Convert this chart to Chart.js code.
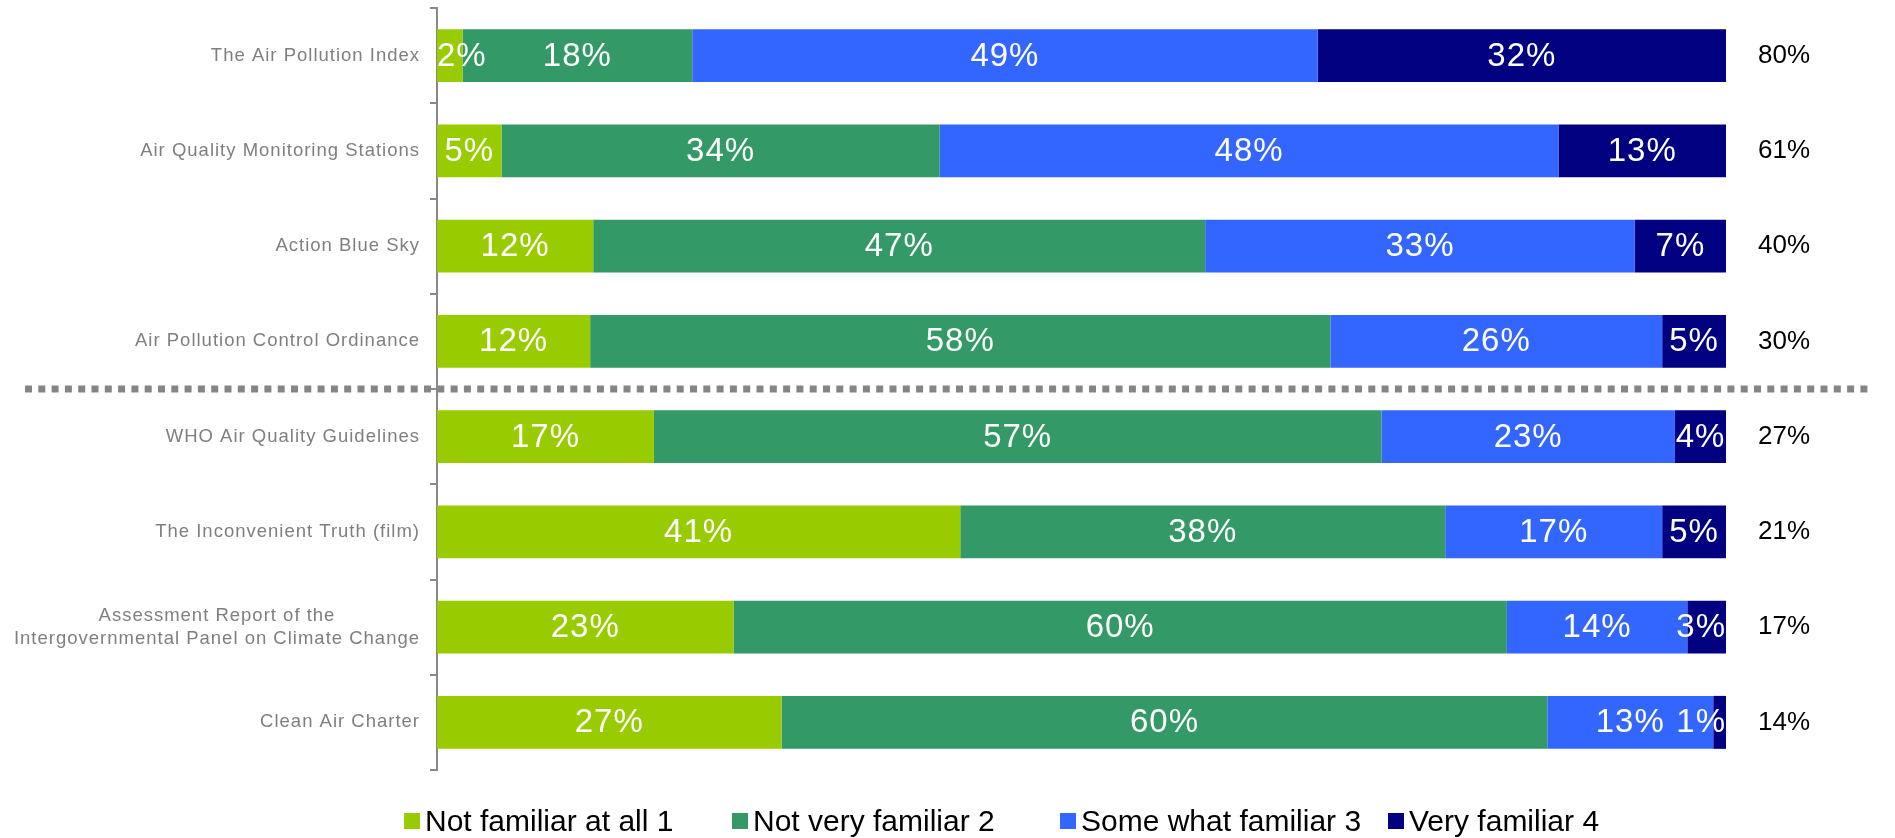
<!DOCTYPE html>
<html>
<head>
<meta charset="utf-8">
<script src="https://cdn.jsdelivr.net/npm/chart.js@4.4.1/dist/chart.umd.min.js"></script>
<style>
    html, body { margin: 0; padding: 0; background: #fff; }
    #chart-wrap { position: relative; width: 1895px; height: 838px; }
    #chart-legend {
        position: absolute; left: 404px; top: 804px;
        display: flex; font-family: "Liberation Sans", Arial, sans-serif;
        font-size: 30px; color: #000;
    }
    #chart-legend .item { width: 328px; display: flex; align-items: center; white-space: nowrap; }
    #chart-legend .box { width: 16px; height: 16px; margin-right: 5px; }
</style>
</head>
<body>
<div id="chart-wrap">
    <canvas id="familiarChart"></canvas>
    <div id="chart-legend"></div>
</div>
<script>
// chart data
var categories = [
    'The Air Pollution Index',
    'Air Quality Monitoring Stations',
    'Action Blue Sky',
    'Air Pollution Control Ordinance',
    'WHO Air Quality Guidelines',
    'The Inconvenient Truth (film)',
    ['Assessment Report of the', 'Intergovernmental Panel on Climate Change'],
    'Clean Air Charter'
];
var notAtAll = [2, 5, 12, 12, 17, 41, 23, 27];
var notVery = [18, 34, 47, 58, 57, 38, 60, 60];
var someWhat = [49, 48, 33, 26, 23, 17, 14, 13];
var veryFamiliar = [32, 13, 7, 5, 4, 5, 3, 1];
var familiarTotals = ['80%', '61%', '40%', '30%', '27%', '21%', '17%', '14%'];
var seriesNames = ['Not familiar at all 1', 'Not very familiar 2', 'Some what familiar 3', 'Very familiar 4'];
var seriesColors = ['#99cc00', '#339966', '#3366ff', '#000080'];
var separatorAfter = 3;

var seriesValues = [notAtAll, notVery, someWhat, veryFamiliar];
var FONT = '"Liberation Sans", Arial, sans-serif';

document.addEventListener('DOMContentLoaded', function() {
    // each row is drawn as a 100% bar
    var rowTotals = categories.map(function(c, i) {
        return seriesValues.reduce(function(s, arr) { return s + arr[i]; }, 0);
    });

    var datasets = seriesValues.map(function(arr, k) {
        return {
            label: seriesNames[k],
            data: arr.map(function(v, i) { return v / rowTotals[i] * 100; }),
            backgroundColor: seriesColors[k],
            borderWidth: 0,
            barPercentage: 0.556,
            categoryPercentage: 1
        };
    });

    // white % labels inside the segments, kept inside the plot
    var segmentLabels = {
        id: 'segmentLabels',
        afterDatasetsDraw: function(chart) {
            var ctx = chart.ctx, area = chart.chartArea;
            ctx.save();
            ctx.font = '33px ' + FONT;
            ctx.letterSpacing = '1px';
            ctx.fillStyle = '#fff';
            ctx.textBaseline = 'middle';
            ctx.textAlign = 'left';
            chart.data.datasets.forEach(function(ds, di) {
                chart.getDatasetMeta(di).data.forEach(function(bar, i) {
                    var text = seriesValues[di][i] + '%';
                    var w = ctx.measureText(text).width;
                    var p = bar.getProps(['x', 'base', 'y'], true);
                    var left = (p.x + p.base) / 2 - w / 2;
                    left = Math.max(area.left, Math.min(left, area.right - w));
                    ctx.fillText(text, left, p.y + 1);
                });
            });
            ctx.restore();
        }
    };

    // grey category names, multi-line blocks centred on themselves
    var categoryLabels = {
        id: 'categoryLabels',
        afterDraw: function(chart) {
            var ctx = chart.ctx, yScale = chart.scales.y;
            ctx.save();
            ctx.font = '18.5px ' + FONT;
            ctx.letterSpacing = '1px';
            ctx.fillStyle = '#7f7f7f';
            ctx.textBaseline = 'middle';
            ctx.textAlign = 'center';
            var right = yScale.right - 17;
            categories.forEach(function(label, i) {
                var lines = [].concat(label);
                var w = Math.max.apply(null, lines.map(function(l) { return ctx.measureText(l).width; }));
                var cy = yScale.getPixelForValue(i);
                lines.forEach(function(line, j) {
                    ctx.fillText(line, right - w / 2, cy + (j - (lines.length - 1) / 2) * 23);
                });
            });
            ctx.restore();
        }
    };

    // dotted line between the two groups
    var separator = {
        id: 'separator',
        afterDraw: function(chart) {
            var ctx = chart.ctx, yScale = chart.scales.y;
            var y = (yScale.getPixelForValue(separatorAfter) + yScale.getPixelForValue(separatorAfter + 1)) / 2;
            ctx.save();
            ctx.strokeStyle = '#858585';
            ctx.lineWidth = 7;
            ctx.setLineDash([7, 6.3]);
            ctx.beginPath();
            ctx.moveTo(25, y);
            ctx.lineTo(1873, y);
            ctx.stroke();
            ctx.restore();
        }
    };

    var familiarChart = new Chart(document.getElementById('familiarChart'), {
        type: 'bar',
        data: { labels: categories, datasets: datasets },
        options: {
            indexAxis: 'y',
            responsive: true,
            maintainAspectRatio: false,
            animation: false,
            layout: { padding: { top: 8, bottom: 68, left: 0, right: 0 } },
            plugins: {
                legend: { display: false },
                tooltip: { enabled: false }
            },
            scales: {
                x: { stacked: true, min: 0, max: 100, display: false },
                y: {
                    stacked: true,
                    offset: true,
                    ticks: { display: false },
                    grid: { drawOnChartArea: false, drawTicks: true, tickLength: 7, color: '#888', lineWidth: 2 },
                    border: { color: '#888', width: 2 },
                    afterFit: function(scale) {
                        scale.width = 437;
                        scale.paddingTop = 0;
                        scale.paddingBottom = 0;
                    }
                },
                y2: {
                    type: 'category',
                    position: 'right',
                    offset: true,
                    labels: familiarTotals,
                    grid: { display: false, drawTicks: false },
                    border: { display: false },
                    ticks: { color: '#000', padding: 32, font: { family: FONT, size: 26 } },
                    afterFit: function(scale) {
                        scale.width = 169;
                        scale.paddingTop = 0;
                        scale.paddingBottom = 0;
                    }
                }
            }
        },
        plugins: [segmentLabels, categoryLabels, separator]
    });

    // legend built from the chart's datasets
    var legendContainer = document.getElementById('chart-legend');
    legendContainer.innerHTML = familiarChart.data.datasets.map(function(ds) {
        return '<div class="item"><span class="box" style="background:' + ds.backgroundColor +
            '"></span><span>' + ds.label + '</span></div>';
    }).join('');
});
</script>
</body>
</html>
